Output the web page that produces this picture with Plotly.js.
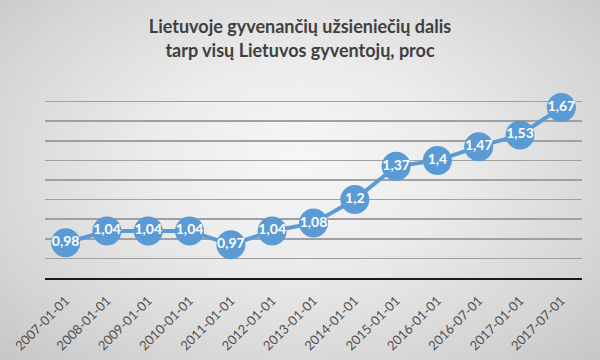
<!DOCTYPE html>
<html>
<head>
<meta charset="utf-8">
<script src="https://cdn.plot.ly/plotly-3.0.1.min.js"></script>
<style>
html,body{margin:0;padding:0;}
#chart{width:600px;height:360px;background:radial-gradient(ellipse at 50% 45%, #f7f7f7 0%, #ececec 35%, #d6d6d6 75%, #c6c6c6 100%);}
</style>
</head>
<body>
<div id="chart"></div>
<script>
const categories = ["2007-01-01","2008-01-01","2009-01-01","2010-01-01","2011-01-01","2012-01-01","2013-01-01","2014-01-01","2015-01-01","2016-01-01","2016-07-01","2017-01-01","2017-07-01"];
const values = [0.98,1.04,1.04,1.04,0.97,1.04,1.08,1.2,1.37,1.4,1.47,1.53,1.67];
const labels = values.map(v => String(v).replace('.', ','));

const trace = {
  x: categories,
  y: values,
  type: 'scatter',
  mode: 'lines+markers+text',
  text: labels,
  textposition: 'middle center',
  textfont: {family: 'Lato, sans-serif', size: 14, color: '#ffffff', weight: 'bold'},
  line: {color: '#5B9BD5', width: 4},
  marker: {color: '#5B9BD5', size: 29},
  cliponaxis: false,
  hoverinfo: 'none'
};

const layout = {
  width: 600, height: 360,
  margin: {l: 45, r: 18, t: 82, b: 82},
  paper_bgcolor: 'rgba(0,0,0,0)',
  plot_bgcolor: 'rgba(0,0,0,0)',
  title: {
    text: 'Lietuvoje gyvenančių užsieniečių dalis<br>tarp visų Lietuvos gyventojų, proc',
    font: {family: 'Lato, sans-serif', size: 18, color: '#404040', weight: 'bold'},
    x: 0.5, xanchor: 'center', y: 0.907, yanchor: 'middle'
  },
  showlegend: false,
  xaxis: {
    type: 'category',
    range: [-0.5, 12.5],
    tickangle: -45,
    tickfont: {family: 'Lato, sans-serif', size: 13, color: '#505050'},
    ticklabelstandoff: 8,
    showgrid: false,
    showline: true, linecolor: '#1a1a1a', linewidth: 2,
    ticks: '', zeroline: false
  },
  yaxis: {
    range: [0.8, 1.8],
    dtick: 0.1, tick0: 0.8,
    showticklabels: false,
    showgrid: true, gridcolor: '#a0a0a0', gridwidth: 1.5,
    zeroline: false, showline: false, ticks: ''
  }
};

Plotly.newPlot('chart', [trace], layout, {staticPlot: true, displayModeBar: false});
</script>
</body>
</html>
